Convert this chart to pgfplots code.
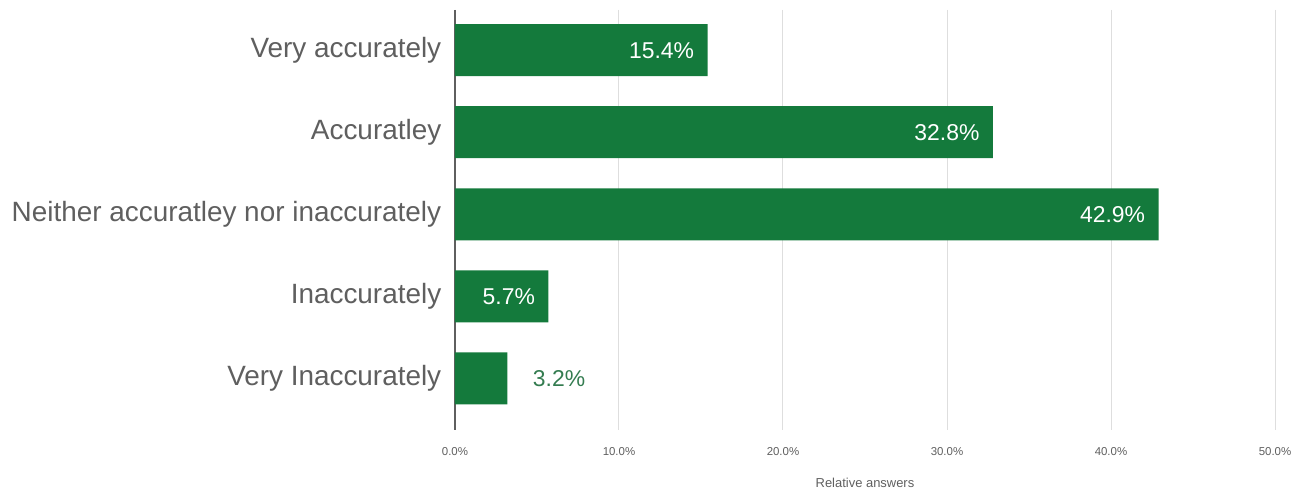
\documentclass[border=0pt]{standalone}
\usepackage{pgfplots}
\pgfplotsset{compat=1.18}
\usepackage{fontspec}
\setmainfont{Liberation Sans}
\definecolor{bargreen}{RGB}{20,122,60}
\definecolor{txtgray}{RGB}{95,95,95}
\definecolor{gridgray}{RGB}{222,222,222}
\begin{document}
\begin{tikzpicture}[x=1bp,y=1bp]
\begin{axis}[
  name=ax,
  scale only axis,
  width=820bp, height=420bp,
  xbar, bar width=52bp, bar shift=0pt,
  y dir=reverse,
  xmin=0, xmax=50,
  ymin=-0.49, ymax=4.63,
  ytick={0,1,2,3,4},
  yticklabels={Very accurately,Accuratley,Neither accuratley nor inaccurately,Inaccurately,Very Inaccurately},
  yticklabel style={font=\fontsize{28}{32}\selectfont, text=txtgray, xshift=-6bp},
  ytick style={draw=none},
  xtick={0,10,20,30,40,50},
  xticklabels={0.0\%,10.0\%,20.0\%,30.0\%,40.0\%,50.0\%},
  xticklabel style={font=\fontsize{11.5}{13}\selectfont, text=txtgray, yshift=-14bp},
  xtick style={draw=none},
  xmajorgrids, grid style={gridgray, line width=1pt},
  axis x line*=bottom, axis y line*=left,
  x axis line style={draw=none},
  y axis line style={draw=txtgray, line width=1.2pt},
  xlabel={Relative answers},
  xlabel style={font=\fontsize{13}{15}\selectfont, text=txtgray, yshift=-16bp},
  clip=false,
]
\addplot[fill=bargreen, draw=none] coordinates {(15.4,0) (32.8,1) (42.9,2) (5.7,3) (3.2,4)};
\addplot[draw=none, fill=none, mark=none, nodes near coords, point meta=explicit symbolic,
  every node near coord/.style={anchor=east, xshift=-10bp, text=white, font=\fontsize{23}{27}\selectfont}]
  table[meta=lab] {
x y lab
15.4 0 15.4\%
32.8 1 32.8\%
42.9 2 42.9\%
5.7 3 5.7\%
};
\addplot[draw=none, fill=none, mark=none, nodes near coords, point meta=explicit symbolic,
  every node near coord/.style={anchor=west, xshift=22bp, text=bargreen!70!gray, font=\fontsize{23}{27}\selectfont}]
  table[meta=lab] {
x y lab
3.2 4 3.2\%
};
\end{axis}
\pgfresetboundingbox
\path (ax.south west) ++(-455bp,-61bp) rectangle ++(1303bp,491bp);
\end{tikzpicture}
\end{document}
